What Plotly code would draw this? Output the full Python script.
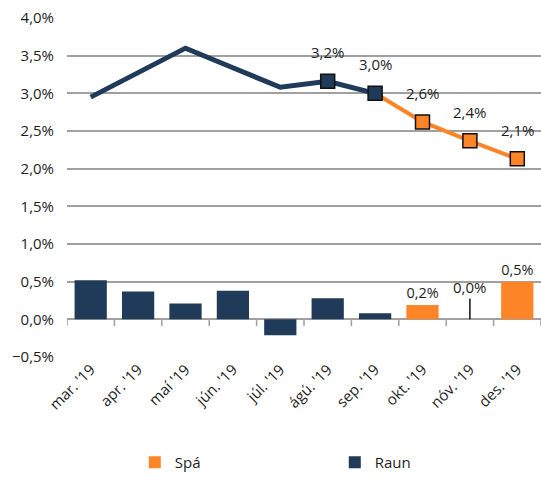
import plotly.graph_objects as go

months = ["mar. '19", "apr. '19", "maí '19", "jún. '19", "júl. '19",
          "ágú. '19", "sep. '19", "okt. '19", "nóv. '19", "des. '19"]

# 12-month rate (line), %
raun_line = [2.95, 3.28, 3.60, 3.34, 3.08, 3.16, 3.00]
spa_line = [3.00, 2.62, 2.37, 2.13]

# monthly change (bars), %
raun_bars = [0.52, 0.37, 0.21, 0.38, -0.21, 0.28, 0.08]
spa_bars = [0.19, 0.0, 0.50]

NAVY = '#203A5A'
ORANGE = '#FD8427'
GRID = '#A0A0A0'
TEXT = '#1E1E1E'
FS = 15

raun_x = months[:7]
spa_line_x = months[6:]
spa_bar_x = months[7:]


def fmt(v):
    return f'{v:.1f}'.replace('.', ',') + '%'


fig = go.Figure()

fig.add_trace(go.Bar(
    x=spa_bar_x, y=spa_bars, name='Spá',
    marker=dict(color=ORANGE, line=dict(width=0)),
    width=0.68,
    text=[fmt(v) if v != 0 else '' for v in spa_bars],
    textposition='outside',
    textfont=dict(size=FS, color=TEXT),
    cliponaxis=False,
))
fig.add_trace(go.Bar(
    x=raun_x, y=raun_bars, name='Raun',
    marker=dict(color=NAVY, line=dict(width=0)),
    width=0.68,
))

fig.add_trace(go.Scatter(
    x=raun_x, y=raun_line, mode='lines', showlegend=False,
    line=dict(color=NAVY, width=5),
))
fig.add_trace(go.Scatter(
    x=spa_line_x, y=spa_line, mode='lines', showlegend=False,
    line=dict(color=ORANGE, width=4),
))
fig.add_trace(go.Scatter(
    x=spa_line_x[1:], y=spa_line[1:], mode='markers', showlegend=False,
    marker=dict(symbol='square', size=14, color=ORANGE,
                line=dict(color='#111111', width=1.5)),
    cliponaxis=False,
))
fig.add_trace(go.Scatter(
    x=raun_x[5:], y=raun_line[5:], mode='markers', showlegend=False,
    marker=dict(symbol='square', size=14, color=NAVY,
                line=dict(color='#111111', width=1.5)),
    cliponaxis=False,
))

annotations = []
for x, y in list(zip(raun_x[5:], raun_line[5:])) + list(zip(spa_line_x[1:], spa_line[1:])):
    annotations.append(dict(
        x=x, y=y, text=fmt(y), showarrow=False, yshift=29,
        font=dict(size=FS, color=TEXT),
    ))

# zero-value bar label with leader line
for x, v in zip(spa_bar_x, spa_bars):
    if v == 0:
        annotations.append(dict(
            x=x, y=v, text=fmt(v), showarrow=True, arrowhead=0,
            arrowwidth=1.5, arrowcolor='#111111', ax=0, ay=-32,
            font=dict(size=FS, color=TEXT),
        ))

# tick marks on the zero line between categories
shapes = []
for i in range(len(months) + 1):
    shapes.append(dict(
        type='line', xref='x', yref='y', x0=i - 0.5, x1=i - 0.5,
        y0=0, y1=-0.09, line=dict(color=GRID, width=1.5),
    ))

fig.update_layout(
    width=541, height=479,
    margin=dict(l=67, r=0, t=18, b=122),
    paper_bgcolor='white', plot_bgcolor='white',
    font=dict(family='Open Sans', size=FS, color=TEXT),
    barmode='relative',
    separators=',.',
    xaxis=dict(
        categoryorder='array', categoryarray=months,
        range=[-0.5, len(months) - 0.5],
        tickangle=-45, showgrid=False, showline=False, ticks='',
        tickfont=dict(size=FS), automargin=False,
    ),
    yaxis=dict(
        range=[-0.5, 4.0], dtick=0.5, tickformat='.1f', ticksuffix='%',
        showgrid=True, gridcolor=GRID, gridwidth=1.5,
        zeroline=True, zerolinecolor=GRID, zerolinewidth=1.5,
        ticklabelstandoff=12, tickfont=dict(size=FS), automargin=False,
    ),
    legend=dict(
        orientation='h', x=0.143, xanchor='left',
        yref='container', y=0, yanchor='bottom',
        traceorder='normal', entrywidth=155, entrywidthmode='pixels',
        font=dict(size=FS),
    ),
    annotations=annotations,
    shapes=shapes,
)

# drop the default 8px page margin so the figure fills the window
fig.write_html('out.html', config={'displayModeBar': False},
               post_script="document.body.style.margin='0';")
